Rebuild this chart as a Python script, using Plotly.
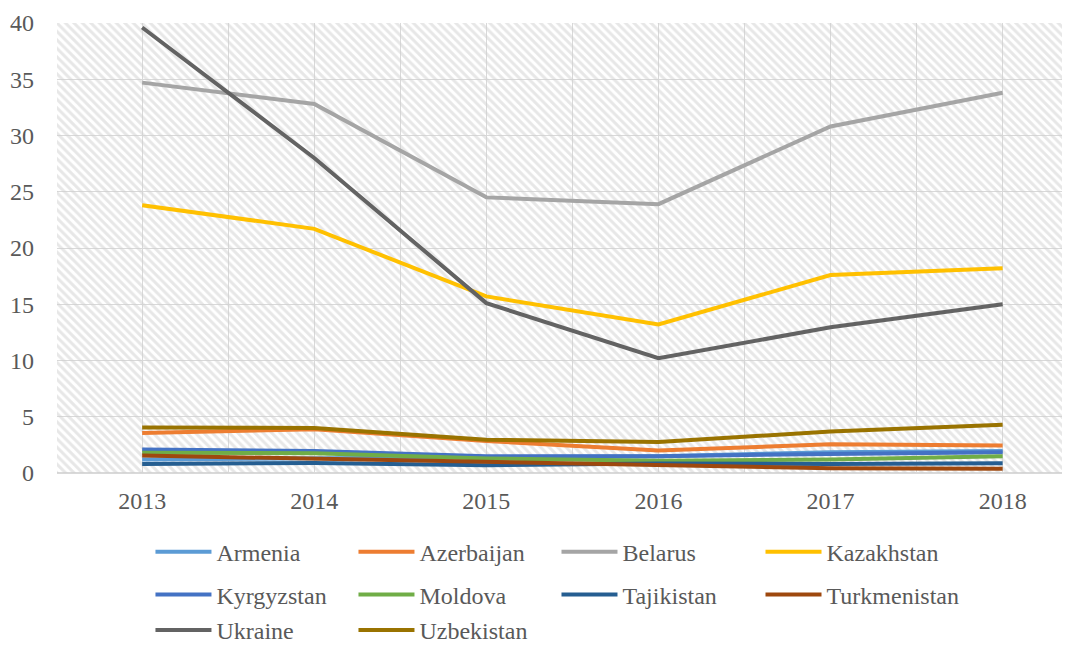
import plotly.graph_objects as go

years = [2013, 2014, 2015, 2016, 2017, 2018]

countries = ["Armenia", "Azerbaijan", "Belarus", "Kazakhstan", "Kyrgyzstan",
             "Moldova", "Tajikistan", "Turkmenistan", "Ukraine", "Uzbekistan"]

armenia = [1.2, 1.3, 1.4, 1.5, 1.85, 1.95]
azerbaijan = [3.55, 3.9, 2.85, 2.0, 2.55, 2.45]
belarus = [34.7, 32.8, 24.5, 23.9, 30.8, 33.8]
kazakhstan = [23.8, 21.7, 15.7, 13.2, 17.6, 18.2]
kyrgyzstan = [2.1, 1.95, 1.5, 1.5, 1.7, 1.85]
moldova = [1.8, 1.75, 1.3, 1.1, 1.2, 1.5]
tajikistan = [0.8, 0.9, 0.7, 0.85, 0.8, 0.87]
turkmenistan = [1.55, 1.25, 0.95, 0.67, 0.43, 0.37]
ukraine = [39.6, 28.0, 15.1, 10.2, 12.95, 15.0]
uzbekistan = [4.05, 4.0, 2.95, 2.75, 3.7, 4.3]

series = [armenia, azerbaijan, belarus, kazakhstan, kyrgyzstan,
          moldova, tajikistan, turkmenistan, ukraine, uzbekistan]

colors = ["#5B9BD5", "#ED7D31", "#A5A5A5", "#FFC000", "#4472C4",
          "#70AD47", "#255E91", "#9E480E", "#636363", "#997300"]

x_range = [2012.505, 2018.345]
y_range = [0, 40]

# legend grid (4 columns, 3 rows) in paper coordinates
legend_cols = [0.093, 0.295, 0.497, 0.700]
legend_rows = [-0.176, -0.271, -0.350]

fig = go.Figure()

# hatched plot-area background
fig.add_trace(go.Scatter(
    x=[x_range[0], x_range[1], x_range[1], x_range[0], x_range[0]],
    y=[y_range[0], y_range[0], y_range[1], y_range[1], y_range[0]],
    mode="none", fill="toself", fillcolor="rgba(0,0,0,0)",
    fillpattern=dict(shape="\\", fgcolor="#d0d0d0", bgcolor="rgba(0,0,0,0)",
                     size=6, solidity=0.5),
    showlegend=False, hoverinfo="skip"))

font_family = "Liberation Serif"
legend_layout = {}
for i, (name, vals, col) in enumerate(zip(countries, series, colors)):
    key = "legend" if i == 0 else f"legend{i + 1}"
    fig.add_trace(go.Scatter(
        x=years, y=vals, name=name, mode="lines",
        line=dict(color=col, width=4),
        legend=key))
    legend_layout[key] = dict(
        x=legend_cols[i % 4], y=legend_rows[i // 4],
        xanchor="left", yanchor="middle", orientation="h",
        itemwidth=56,
        font=dict(family=font_family, size=24, color="#595959"),
        bgcolor="rgba(0,0,0,0)")

fig.update_layout(
    width=1070, height=638,
    margin=dict(l=49, r=16, t=15, b=173, autoexpand=False),
    paper_bgcolor="white", plot_bgcolor="white",
    font=dict(family=font_family, size=24, color="#595959"),
    xaxis=dict(range=x_range, tick0=2013, dtick=1, showgrid=True,
               gridcolor="#d9d9d9", gridwidth=1,
               minor=dict(dtick=0.5, showgrid=True, gridcolor="#d9d9d9", gridwidth=1),
               zeroline=False, showline=False,
               ticks="outside", ticklen=6, tickcolor="rgba(0,0,0,0)",
               tickfont=dict(family=font_family, size=24, color="#595959")),
    yaxis=dict(range=y_range, dtick=5, showgrid=True, gridcolor="#d9d9d9",
               gridwidth=1, zeroline=True, zerolinecolor="#d9d9d9", zerolinewidth=1.5,
               showline=False, ticklabelstandoff=22,
               tickfont=dict(family=font_family, size=24, color="#595959")),
    **legend_layout,
)

fig.write_html("out.html")
